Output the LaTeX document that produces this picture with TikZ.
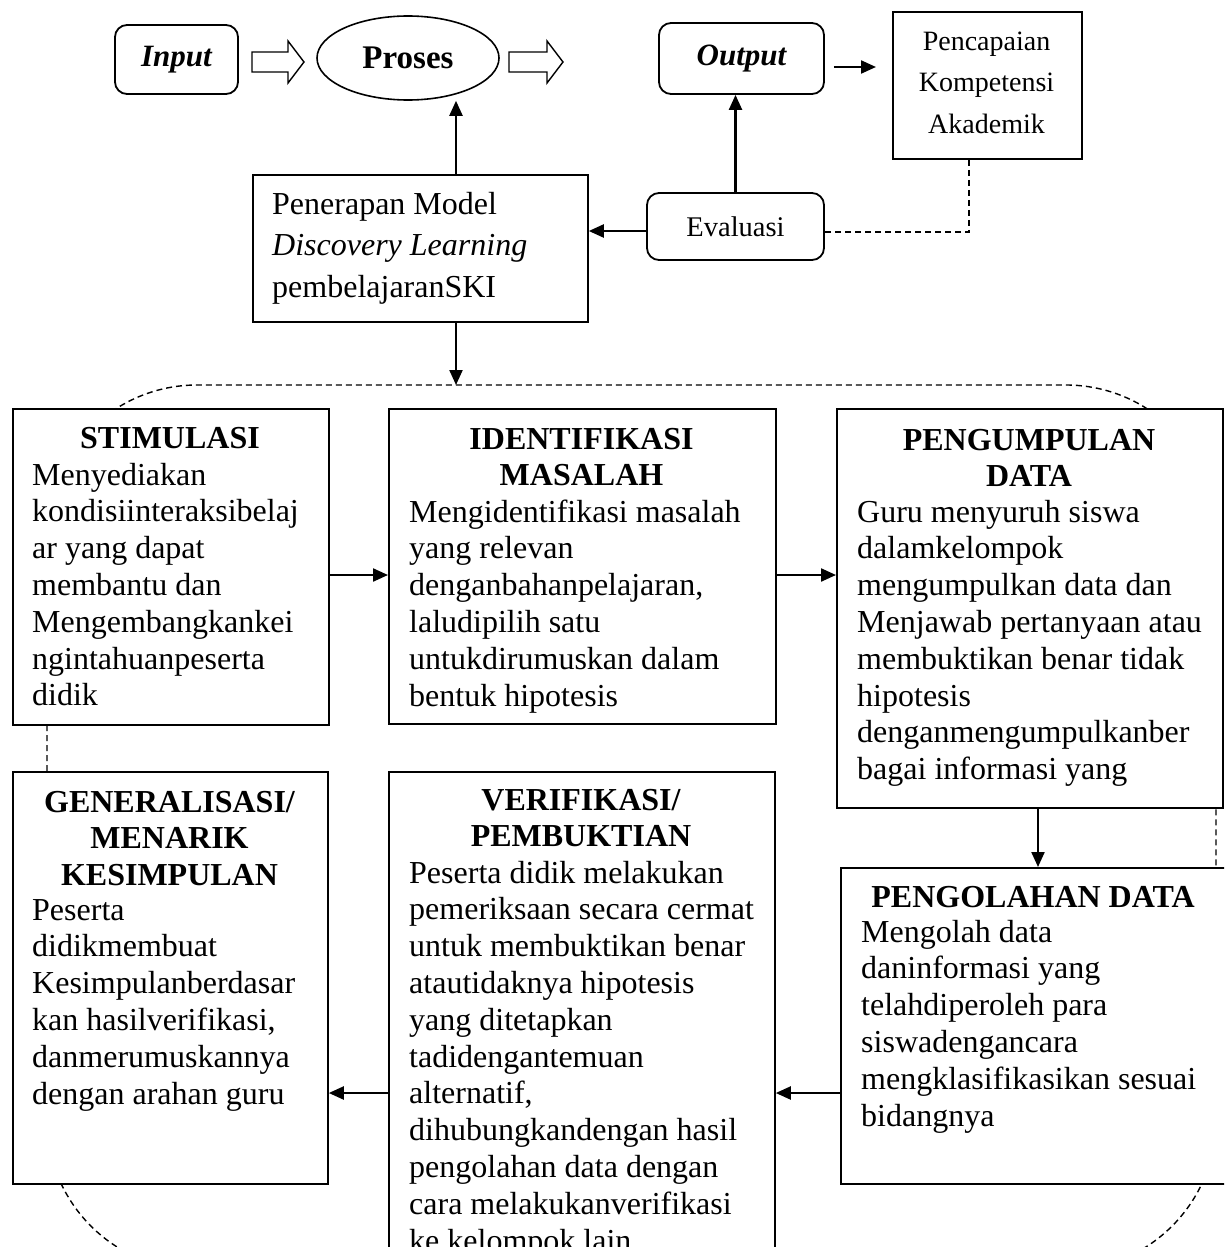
\documentclass[tikz,border=0pt]{standalone}
\usepackage{fontspec}
\setmainfont{Liberation Serif}
\usetikzlibrary{arrows.meta,shapes.geometric,calc}
\newcommand\bodyfs{\fontsize{32}{36.8}\selectfont}
\newcommand\ttlfs{\fontsize{32}{36.8}\selectfont\bfseries}
\newcommand\topfs{\fontsize{32}{41.5}\selectfont}
\begin{document}
\begin{tikzpicture}[x=1pt,y=-1pt,
  bx/.style={draw,line width=1.8pt,fill=white,anchor=north west,inner sep=0pt},
  rbx/.style={bx,rounded corners=12pt},
  arr/.style={line width=2.2pt,-{Triangle[length=15pt,width=13pt]}},
  dsh/.style={line width=1.4pt,dash pattern=on 6pt off 4pt},
  hol/.style={line width=1.4pt,fill=white},
  ttl/.style={anchor=north,align=center,inner sep=0pt,font=\ttlfs},
  bdy/.style={anchor=north west,align=left,inner sep=0pt,font=\bodyfs}]
\useasboundingbox (0,0) rectangle (1224,1247);
\clip (0,0) rectangle (1224,1247);

% big dashed cycle
\draw[dsh, rounded corners=150pt] (47,385) rectangle (1216,1270);

% ---------- top row ----------
\node[rbx,minimum width=123pt,minimum height=69pt,font=\fontsize{31}{40}\selectfont\bfseries\itshape,anchor=center] (inp) at (176.5,59.5) {Input};
\node[draw,line width=1.6pt,ellipse,minimum width=182pt,minimum height=84pt,inner sep=0pt,font=\fontsize{33}{40}\selectfont\bfseries] (pro) at (408,58) {Proses};
\node[rbx,minimum width=165pt,minimum height=71pt,font=\fontsize{31}{40}\selectfont\bfseries\itshape,anchor=center] (out) at (741.5,58.5) {Output};
\node[bx,minimum width=189pt,minimum height=147pt] (pen) at (892,11) {};
\node[anchor=north,align=center,inner sep=0pt,font=\fontsize{28}{41.7}\selectfont] (penT) at (986.5,20.8) {\strut Pencapaian\\Kompetensi\\Akademik};
\node[rbx,minimum width=177pt,minimum height=67pt,font=\fontsize{28.5}{36}\selectfont,anchor=center] (eva) at (735.5,226.5) {Evaluasi};
\node[bx,minimum width=335pt,minimum height=147pt] (ter) at (252,174) {};
\node[anchor=north west,align=left,inner sep=0pt,font=\topfs] (terT) at (272,185) {\strut Penerapan Model\\\textit{Discovery Learning}\\pembelajaranSKI};

% hollow arrows
\draw[hol] (252,52) -- (288,52) -- (288,41) -- (304,62) -- (288,83) -- (288,72) -- (252,72) -- cycle;
\draw[hol] (509,52) -- (547,52) -- (547,41) -- (563,62) -- (547,83) -- (547,72) -- (509,72) -- cycle;

\coordinate (yA) at (0,67);
\coordinate (yB) at (0,231);
\coordinate (xC) at (456,0);
\coordinate (tip) at (456,385);
\draw[arr,shorten <=9pt,shorten >=16pt] (out.east |- yA) -- (pen.west |- yA);
\draw[arr] (eva.north) -- (eva.north |- out.south);
\draw[arr] (eva.west |- yB) -- (ter.east |- yB);
\draw[arr] (ter.north -| xC) -- (xC |- pro.south);
\draw[arr] (ter.south -| xC) -- (tip);
\draw[dsh] (pen.south -| 969,0) |- (eva.east |- 0,232);

% ---------- cycle boxes ----------
\node[bx,minimum width=316pt,minimum height=316pt] (sti) at (12,408) {};
\node[ttl] (stiT) at (170,422.2) {\strut STIMULASI};
\node[bdy] (stiB) at (32,459.2) {\strut Menyediakan\\kondisiinteraksibelaj\\ar yang dapat\\membantu dan\\Mengembangkankei\\ngintahuanpeserta\\didik};

\node[bx,minimum width=387pt,minimum height=315pt] (ide) at (388,408) {};
\node[ttl] (ideT) at (581.5,423.2) {\strut IDENTIFIKASI\\MASALAH};
\node[bdy] (ideB) at (409,496.2) {\strut Mengidentifikasi masalah\\yang relevan\\denganbahanpelajaran,\\laludipilih satu\\untukdirumuskan dalam\\bentuk hipotesis};

\node[bx,minimum width=386pt,minimum height=399pt] (pgm) at (836,408) {};
\node[ttl] (pgmT) at (1029,424.2) {\strut PENGUMPULAN\\DATA};
\node[bdy] (pgmB) at (857,496.2) {\strut Guru menyuruh siswa\\dalamkelompok\\mengumpulkan data dan\\Menjawab pertanyaan atau\\membuktikan benar tidak\\hipotesis\\denganmengumpulkanber\\bagai informasi yang};

\node[bx,minimum width=386pt,minimum height=316pt] (pgl) at (840,867) {};
\node[ttl] (pglT) at (1033,881.2) {\strut PENGOLAHAN DATA};
\node[bdy] (pglB) at (861,916.2) {\strut Mengolah data\\daninformasi yang\\telahdiperoleh para\\siswadengancara\\mengklasifikasikan sesuai\\bidangnya};

\node[bx,minimum width=386pt,minimum height=530pt] (ver) at (388,771) {};
\node[ttl] (verT) at (581,784.2) {\strut VERIFIKASI/\\PEMBUKTIAN};
\node[bdy] (verB) at (409,857.2) {\strut Peserta didik melakukan\\pemeriksaan secara cermat\\untuk membuktikan benar\\atautidaknya hipotesis\\yang ditetapkan\\tadidengantemuan\\alternatif,\\dihubungkandengan hasil\\pengolahan data dengan\\cara melakukanverifikasi\\ke kelompok lain.};

\node[bx,minimum width=315pt,minimum height=412pt] (gen) at (12,771) {};
\node[ttl] (genT) at (169.5,786.2) {\strut GENERALISASI/\\MENARIK\\KESIMPULAN};
\node[bdy] (genB) at (32,894.2) {\strut Peserta\\didikmembuat\\Kesimpulanberdasar\\kan hasilverifikasi,\\danmerumuskannya\\dengan arahan guru};

\coordinate (y1) at (0,575);
\coordinate (y2) at (0,1093);
\coordinate (x3) at (1038,0);
\draw[arr] (sti.east |- y1) -- (ide.west |- y1);
\draw[arr] (ide.east |- y1) -- (pgm.west |- y1);
\draw[arr] (pgm.south -| x3) -- (pgl.north -| x3);
\draw[arr] (pgl.west |- y2) -- (ver.east |- y2);
\draw[arr] (ver.west |- y2) -- (gen.east |- y2);
\end{tikzpicture}
\end{document}
